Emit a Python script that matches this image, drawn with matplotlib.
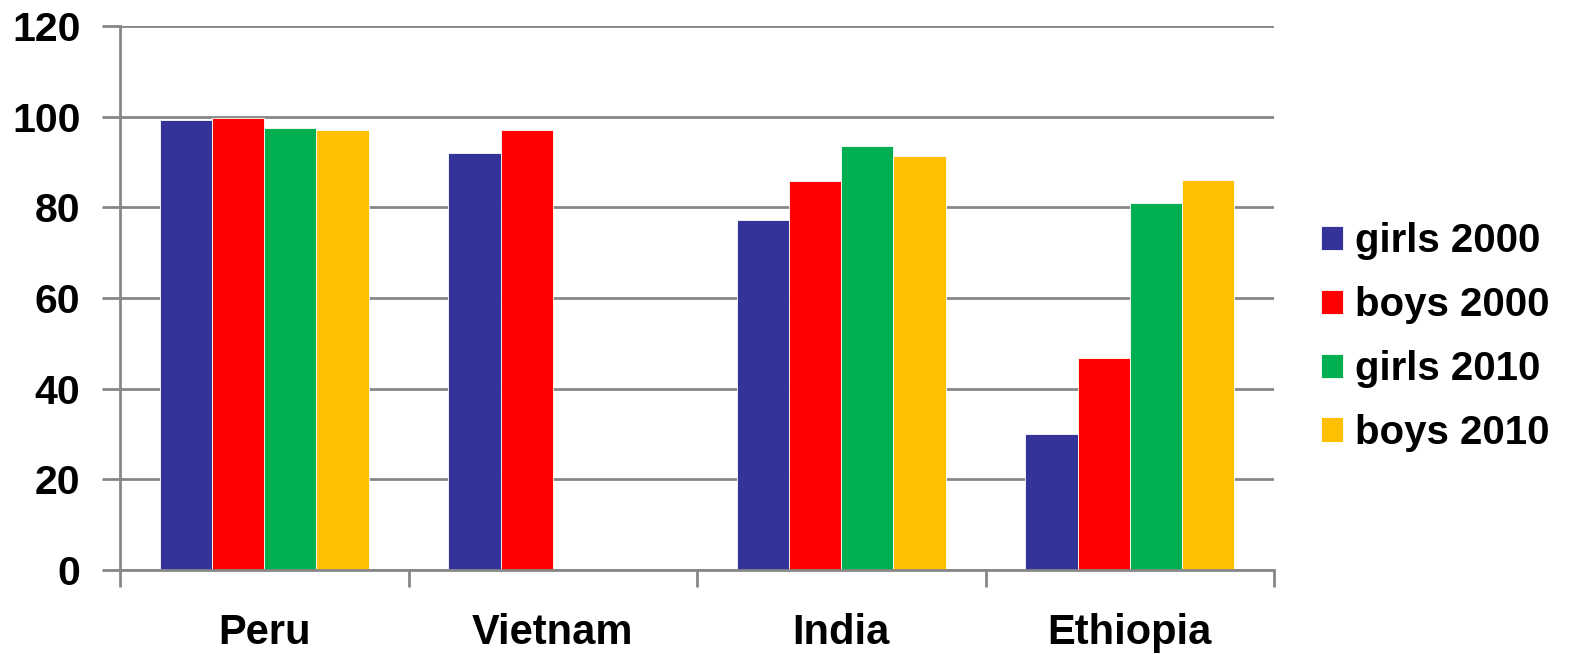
import matplotlib
matplotlib.use("Agg")
import matplotlib.pyplot as plt
import numpy as np

countries = ["Peru", "Vietnam", "India", "Ethiopia"]
series_names = ["girls 2000", "boys 2000", "girls 2010", "boys 2010"]
girls_2000 = [99.3, 92.0, 77.2, 29.9]
boys_2000 = [99.8, 97.0, 85.8, 46.8]
girls_2010 = [97.4, np.nan, 93.6, 81.0]
boys_2010 = [97.0, np.nan, 91.4, 86.0]
colors = ["#333399", "#FF0000", "#00B050", "#FFC000"]
yticks = [0, 20, 40, 60, 80, 100, 120]

plt.rcParams['font.family'] = ['Liberation Sans', 'DejaVu Sans']
plt.rcParams['font.weight'] = 'bold'

fig = plt.figure(figsize=(15.69, 6.54), dpi=100)
ax = fig.add_axes([120/1569, 84/654, (1274-120)/1569, (570-26)/654])

grid_c = "#878787"
x = np.arange(len(countries))
w = 0.181
all_series = [girls_2000, boys_2000, girls_2010, boys_2010]
handles = []
for k, (vals, name, c) in enumerate(zip(all_series, series_names, colors)):
    v = np.array(vals, dtype=float)
    mask = ~np.isnan(v)
    b = ax.bar(x[mask] + (k - 1.5) * w, v[mask], width=w, color=c,
               edgecolor='white', linewidth=0.6, label=name, zorder=3)
    handles.append(b)

ax.set_xlim(-0.5, 3.5)
ax.set_ylim(0, 120)
ax.set_yticks(yticks)
ax.set_yticklabels([str(t) for t in yticks], fontsize=29.5, fontweight='bold')
ax.set_xticks(x)
ax.set_xticklabels(countries, fontsize=30, fontweight='bold')
ax.set_xticks(np.arange(-0.5, 3.6, 1.0), minor=True)
ax.tick_params(axis='x', which='major', length=0, pad=31)
ax.tick_params(axis='x', which='minor', length=12, width=2, color=grid_c, direction='out')
ax.tick_params(axis='y', which='major', length=13, width=2, color=grid_c, direction='out', pad=15.5)

ax.grid(axis='y', color=grid_c, linewidth=2, zorder=0)
ax.set_axisbelow(True)
for s in ['top', 'right']:
    ax.spines[s].set_visible(False)
for s in ['left', 'bottom']:
    ax.spines[s].set_color(grid_c)
    ax.spines[s].set_linewidth(2)
    ax.spines[s].set_zorder(4)

fig.legend(handles=handles, labels=series_names, loc='center left',
           bbox_to_anchor=(1321/1569, 1 - 337/654), frameon=False,
           prop={'size': 29, 'weight': 'bold'}, handlelength=0.55,
           handleheight=0.55, handletextpad=0.3, labelspacing=0.64,
           borderpad=0, borderaxespad=0)

fig.savefig("out.png", dpi=100)
